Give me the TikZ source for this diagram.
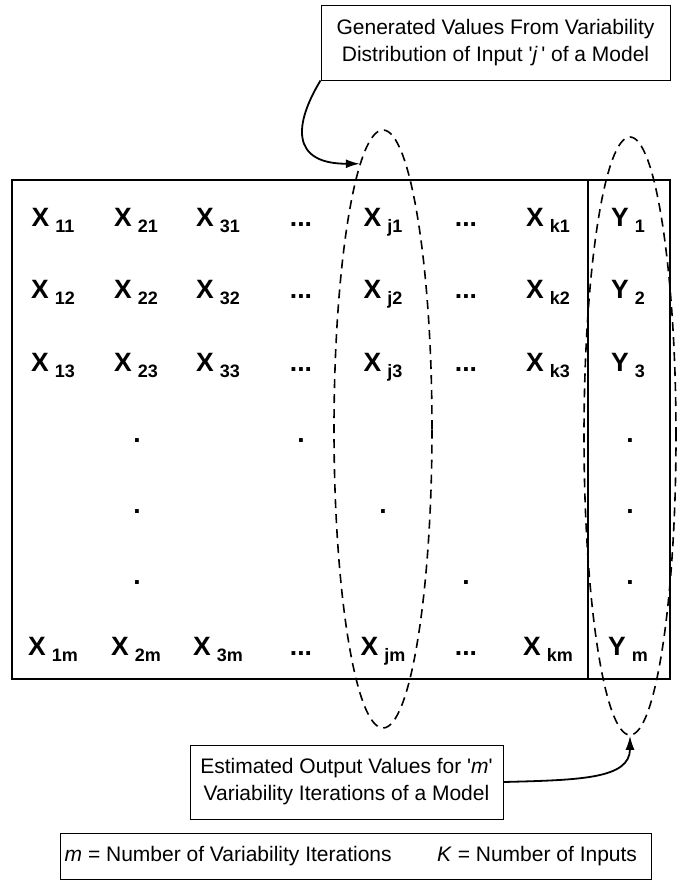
\documentclass[tikz,border=0pt]{standalone}
\usepackage{fontspec}
\setmainfont{Liberation Sans}
\usepackage{tikz}
\usetikzlibrary{arrows.meta,positioning,shapes.geometric}
\newcommand{\xsub}[2]{{\fontsize{26.5}{28}\selectfont #1}\hspace{6pt}\raisebox{-6pt}{\fontsize{18}{19}\selectfont #2}}
\newcommand{\bigdots}[1]{{\fontsize{26.5}{28}\selectfont #1}}

\begin{document}
\begin{tikzpicture}[x=1pt,y=-1pt,
  entry/.style={anchor=base,inner sep=0pt,font=\bfseries},
  note/.style={draw,line width=1pt,rectangle,inner sep=0pt,align=center,font=\fontsize{21}{27}\selectfont},
  keytext/.style={anchor=west,inner sep=0pt,font=\fontsize{21}{27}\selectfont},
  oval/.style={draw,ellipse,inner sep=0pt,line width=1.6pt,dash pattern=on 9pt off 6pt},
  arr/.style={line width=1.8pt,-{Latex[length=14pt,width=9pt]}}]
  \useasboundingbox (0,0) rectangle (681,884);
  % table of values
  \draw[line width=2.4pt] (12,180) rectangle (670,679);
  \draw[line width=2.4pt] (588,180) -- (588,679);
  \node[entry] (x11) at (53,226) {\xsub{X}{11}}; \node[entry] (x21) at (136,226) {\xsub{X}{21}}; \node[entry] (x31) at (218,226) {\xsub{X}{31}};
  \node[entry] (e11) at (301,226) {\bigdots{...}}; \node[entry] (xj1) at (383,226) {\xsub{X}{j1}}; \node[entry] (e21) at (466,226) {\bigdots{...}};
  \node[entry] (xk1) at (548,226) {\xsub{X}{k1}}; \node[entry] (y1) at (628,226) {\xsub{Y}{1}};
  \node[entry] (x12) at (53,298) {\xsub{X}{12}}; \node[entry] (x22) at (136,298) {\xsub{X}{22}}; \node[entry] (x32) at (218,298) {\xsub{X}{32}};
  \node[entry] (e12) at (301,298) {\bigdots{...}}; \node[entry] (xj2) at (383,298) {\xsub{X}{j2}}; \node[entry] (e22) at (466,298) {\bigdots{...}};
  \node[entry] (xk2) at (548,298) {\xsub{X}{k2}}; \node[entry] (y2) at (628,298) {\xsub{Y}{2}};
  \node[entry] (x13) at (53,371) {\xsub{X}{13}}; \node[entry] (x23) at (136,371) {\xsub{X}{23}}; \node[entry] (x33) at (218,371) {\xsub{X}{33}};
  \node[entry] (e13) at (301,371) {\bigdots{...}}; \node[entry] (xj3) at (383,371) {\xsub{X}{j3}}; \node[entry] (e23) at (466,371) {\bigdots{...}};
  \node[entry] (xk3) at (548,371) {\xsub{X}{k3}}; \node[entry] (y3) at (628,371) {\xsub{Y}{3}};
  \node[entry] (d24) at (137,442) {\bigdots{.}}; \node[entry] (de4) at (301,442) {\bigdots{.}}; \node[entry] (dy4) at (630,442) {\bigdots{.}};
  \node[entry] (d25) at (137,513) {\bigdots{.}}; \node[entry] (dj5) at (383,513) {\bigdots{.}}; \node[entry] (dy5) at (630,513) {\bigdots{.}};
  \node[entry] (d26) at (137,584) {\bigdots{.}}; \node[entry] (de6) at (466,584) {\bigdots{.}}; \node[entry] (dy6) at (630,584) {\bigdots{.}};
  \node[entry] (x1m) at (53,655) {\xsub{X}{1m}}; \node[entry] (x2m) at (136,655) {\xsub{X}{2m}}; \node[entry] (x3m) at (218,655) {\xsub{X}{3m}};
  \node[entry] (e1m) at (301,655) {\bigdots{...}}; \node[entry] (xjm) at (383,655) {\xsub{X}{jm}}; \node[entry] (e2m) at (466,655) {\bigdots{...}};
  \node[entry] (xkm) at (548,655) {\xsub{X}{km}}; \node[entry] (ym) at (628,655) {\xsub{Y}{m}};
  % dashed groupings
  \node[oval,minimum width=98,minimum height=598] (ej) at (383,429) {};
  \node[oval,minimum width=92,minimum height=598] (ey) at (630,436) {};
  % callouts
  \node[note,minimum width=349,minimum height=75] (gen) at (495.5,42.5) {Generated Values From Variability\\Distribution of Input \textquotesingle\textit{j}\,\textquotesingle{} of a Model};
  \node[note,minimum width=313,minimum height=74] (est) at (346.5,782) {Estimated Output Values for \textquotesingle\textit{m}\textquotesingle\\Variability Iterations of a Model};
  \draw[arr] (gen.south west) .. controls +(-26,43) and +(-70,0) .. (ej.95);
  \draw[arr] (est.east) .. controls +(77,-2) and +(0,43) .. (ey.south);
  % key
  \node[note,minimum width=591,minimum height=46] (key) at (355.5,856) {};
  \node[keytext,right=5pt of key.west] (keym) {\textit{m} = Number of Variability Iterations};
  \node[keytext] (keyk) at (437,856) {\textit{K} = Number of Inputs};
\end{tikzpicture}
\end{document}
